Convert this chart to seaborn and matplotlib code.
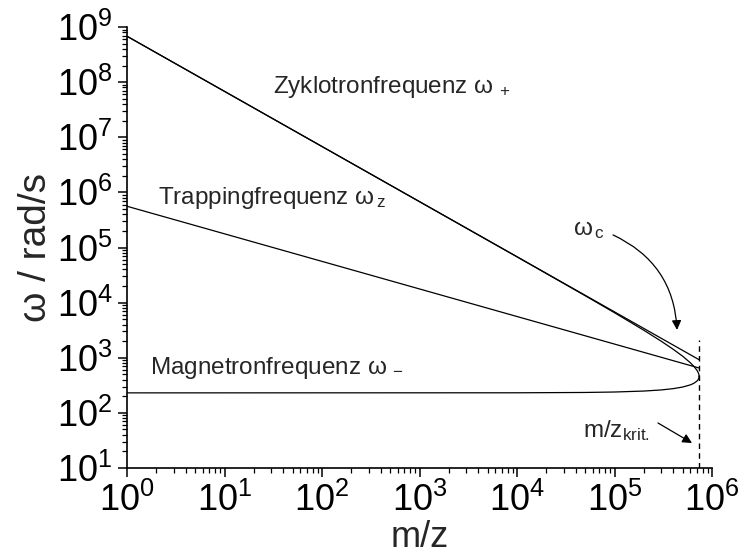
import numpy as np
import pandas as pd
import matplotlib
matplotlib.use("Agg")
import matplotlib.pyplot as plt
import seaborn as sns
from matplotlib.patches import FancyArrowPatch
from matplotlib.ticker import LogLocator, LogFormatterSciNotation, NullFormatter

# --- values (rad/s) against m/z ---
mz_c = [1, 7.37e5]
omega_c = [6.8e8, 922]

mz_z = [1, 7.37e5]
omega_z = [5.6e5, 652]

mz_pm = [1, 1e4, 5e4, 1e5, 2e5, 3e5, 4e5, 5e5, 6e5, 6.5e5, 7e5, 7.2e5, 7.3e5, 7.35e5, 7.37e5]
omega_plus = [6.8e8, 67769, 13365, 6561, 3151, 2006, 1425, 1066, 811, 703, 595, 544, 512, 488, 461]
omega_minus = [230.6, 231.4, 234.6, 239, 248.8, 260.5, 275.1, 294.3, 322.2, 343.1, 376.5, 400.0, 419.7, 436.8, 461]

mz_krit = 7.37e5
krit_line_top = 2100

sns.set_theme(style="ticks")
plt.rcParams["font.family"] = ["Liberation Sans", "DejaVu Sans"]
plt.rcParams["mathtext.default"] = "regular"

fig = plt.figure(figsize=(7.42, 5.54), dpi=100)
ax = fig.add_axes([127 / 742, 1 - 468 / 554, (712 - 127) / 742, (468 - 27) / 554])

lw = 0.9
sns.lineplot(x=mz_c, y=omega_c, ax=ax, color="black", lw=lw, estimator=None, sort=False)
sns.lineplot(x=mz_z, y=omega_z, ax=ax, color="black", lw=lw, estimator=None, sort=False)
sns.lineplot(x=mz_pm, y=omega_plus, ax=ax, color="black", lw=lw, estimator=None, sort=False)
sns.lineplot(x=mz_pm, y=omega_minus, ax=ax, color="black", lw=lw, estimator=None, sort=False)
ax.plot([mz_krit, mz_krit], [10, krit_line_top], color="black", lw=1.0,
        linestyle=(0, (4, 3)))

ax.set_xscale("log")
ax.set_yscale("log")
ax.set_xlim(1, 1e6)
ax.set_ylim(10, 1e9)

ax.xaxis.set_major_locator(LogLocator(base=10, numticks=20))
ax.yaxis.set_major_locator(LogLocator(base=10, numticks=20))
ax.xaxis.set_minor_locator(LogLocator(base=10, subs=np.arange(2, 10), numticks=20))
ax.yaxis.set_minor_locator(LogLocator(base=10, subs=np.arange(2, 10), numticks=20))
ax.xaxis.set_major_formatter(LogFormatterSciNotation())
ax.yaxis.set_major_formatter(LogFormatterSciNotation())
ax.xaxis.set_minor_formatter(NullFormatter())
ax.yaxis.set_minor_formatter(NullFormatter())

for side in ["top", "right"]:
    ax.spines[side].set_visible(False)
for side in ["left", "bottom"]:
    ax.spines[side].set_linewidth(1.2)
    ax.spines[side].set_color("black")

ax.tick_params(which="major", direction="out", length=6.5, width=1.1,
               labelsize=26, colors="black", pad=4)
ax.tick_params(which="minor", direction="out", length=3.5, width=0.9, colors="black")

ax.set_xlabel("m/z", fontsize=26, labelpad=1)
ax.set_ylabel("ω / rad/s", fontsize=28, labelpad=2)

fs = 17.5
ax.text(31.4, 6.4e7, "Zyklotronfrequenz $ω_{\\,+}$", fontsize=fs, va="baseline", ha="left")
ax.text(2.08, 6.2e5, "Trappingfrequenz $ω_{\\,z}$", fontsize=fs, va="baseline", ha="left")
ax.text(1.72, 500, "Magnetronfrequenz $ω_{\\,-}$", fontsize=fs, va="baseline", ha="left")
ax.text(3.75e4, 1.69e5, "$ω_{\\,c}$", fontsize=fs, va="baseline", ha="left")
ax.text(4.75e4, 36.5, "m/z$_{krit.}$", fontsize=fs, va="baseline", ha="left")

ax.add_patch(FancyArrowPatch((9.66e4, 1.69e5), (4.38e5, 3200),
                             connectionstyle="arc3,rad=-0.3", arrowstyle="-|>",
                             mutation_scale=14, color="black", lw=0.9,
                             shrinkA=0, shrinkB=0))
ax.add_patch(FancyArrowPatch((2.79e5, 65.6), (6.24e5, 28.4),
                             arrowstyle="-|>", mutation_scale=14, color="black",
                             lw=0.9, shrinkA=0, shrinkB=0))

fig.savefig("out.png", dpi=100)
